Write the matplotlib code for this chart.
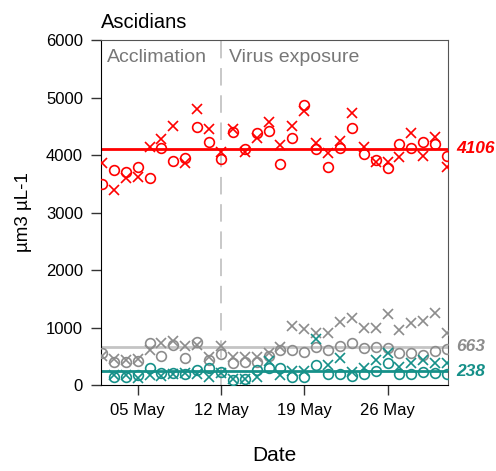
import numpy as np
import pandas as pd
import matplotlib
matplotlib.use("Agg")
import matplotlib.pyplot as plt
import matplotlib.dates as mdates

plt.rcParams["font.family"] = ["Liberation Sans", "DejaVu Sans"]

# daily samples, 2 to 31 May
dates = pd.date_range("2021-05-02", "2021-05-31", freq="D")

red_circles = [3496, 3739, 3710, 3797, 3606, 4116, 3901, 3953, 4492, 4220,
               3930, 4400, 4110, 4388, 4420, 3843, 4301, 4870, 4099, 3797,
               4128, 4475, 4017, 3910, 3768, 4191, 4116, 4220, 4191, 3983]
red_crosses = [3866, 3391, 3600, 3617, 4133, 4273, 4510, 3855, 4795, 4447,
               4047, 4450, 4057, 4301, 4568, 4174, 4510, 4771, 4203, 4041,
               4249, 4725, 4145, 3880, 3884, 3971, 4388, 3983, 4307, 3786]
gray_circles = [560, 405, 405, 417, 736, 504, 690, 475, 754, 435,
                533, 388, 405, 405, 500, 609, 609, 580, 667, 609,
                678, 736, 638, 667, 638, 562, 551, 522, 597, 620]
gray_crosses = [510, 450, 440, 460, 609, 725, 760, 683, 700, 481,
                678, 493, 493, 493, 560, 667, 1020, 968, 899, 899,
                1101, 1170, 986, 986, 1235, 957, 1084, 1119, 1247, 899]
teal_circles = [np.nan, 134, 145, 180, 290, 210, 214, 191, 265, 295,
                225, 87, 100, 265, 300, 300, 134, 145, 348, 191,
                191, 157, 191, 249, 388, 191, 191, 232, 203, 191]
teal_crosses = [np.nan, 170, 175, 130, 175, 165, 191, 210, 191, 134,
                210, 100, 110, 140, 410, 174, 240, 249, 795, 348,
                464, 232, 290, 435, 551, 319, 377, 435, 377, 388]

means = {"red": 4106, "gray": 663, "teal": 238}
RED, GRAY, GRAY_LINE, TEAL = "#ff0000", "#8c8c8c", "#c4c4c4", "#169089"

fig = plt.figure(figsize=(4.96, 4.71), dpi=100)
ax = fig.add_axes([0.2036, 0.1826, 0.6996, 0.7324])

ax.axvline(pd.Timestamp("2021-05-12"), color="#c8c8c8", lw=1.4,
           dashes=(9, 5), zorder=1)

ax.axhline(means["red"], color=RED, lw=2, zorder=2)
ax.axhline(means["gray"], color=GRAY_LINE, lw=2, zorder=2)
ax.axhline(means["teal"], color=TEAL, lw=2, zorder=2)

mk = dict(ls="none", ms=7, zorder=3)
ax.plot(dates, red_circles, marker="o", mfc="none", mec=RED, mew=1.2, **mk)
ax.plot(dates, red_crosses, marker="x", color=RED, mew=1.2, **mk)
ax.plot(dates, gray_circles, marker="o", mfc="none", mec=GRAY, mew=1.2, **mk)
ax.plot(dates, gray_crosses, marker="x", color=GRAY, mew=1.2, **mk)
ax.plot(dates, teal_circles, marker="o", mfc="none", mec=TEAL, mew=1.2, **mk)
ax.plot(dates, teal_crosses, marker="x", color=TEAL, mew=1.2, **mk)

ax.set_xlim(pd.Timestamp("2021-05-01 22:00"), pd.Timestamp("2021-05-31 02:00"))
ax.set_ylim(0, 6000)
ax.set_yticks(range(0, 6001, 1000))
ax.set_xticks(pd.to_datetime(["2021-05-05", "2021-05-12", "2021-05-19", "2021-05-26"]))
ax.xaxis.set_major_formatter(mdates.DateFormatter("%d %b"))
ax.tick_params(direction="out", length=7, width=1, labelsize=12, pad=6, color="#333333")

ax.spines["left"].set_color("black")
ax.spines["bottom"].set_color("black")
ax.spines["top"].set_color("#555555")
ax.spines["right"].set_color("#555555")

for key, col in [("red", RED), ("gray", GRAY), ("teal", TEAL)]:
    ax.annotate(str(means[key]), xy=(1, means[key]), xycoords=("axes fraction", "data"),
                xytext=(6, 0), textcoords="offset points", va="center", ha="left",
                color=col, fontsize=12.5, fontweight="bold", fontstyle="italic")

ax.text(0.018, 0.975, "Acclimation", transform=ax.transAxes, ha="left", va="top",
        color="#777777", fontsize=14)
ax.text(0.369, 0.975, "Virus exposure", transform=ax.transAxes, ha="left", va="top",
        color="#777777", fontsize=14)

ax.set_title("Ascidians", loc="left", fontsize=14.5, pad=9)
ax.set_ylabel("µm3 µL-1", fontsize=13.5, labelpad=10)
ax.set_xlabel("Date", fontsize=15, labelpad=20)

fig.savefig("out.png", dpi=100)
